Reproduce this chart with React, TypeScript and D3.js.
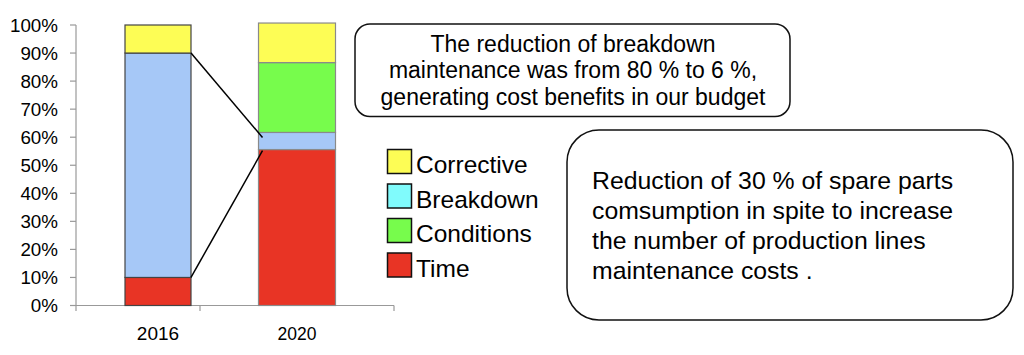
import React from "react";
import * as d3 from "d3";

const categories = ["2016", "2020"];
const seriesNames = ["Time", "Breakdown", "Conditions", "Corrective"];
const timeValues = [10, 55.6];
const breakdownValues = [80, 6.1];
const conditionsValues = [0, 24.9];
const correctiveValues = [10, 14.1];
const yTicks = [0, 10, 20, 30, 40, 50, 60, 70, 80, 90, 100];
const legendNames = ["Corrective", "Breakdown", "Conditions", "Time"];
const note1Lines = [
  "The reduction of breakdown",
  "maintenance was from 80 % to 6 %,",
  "generating cost benefits in our budget",
];
const note2Lines = [
  "Reduction of 30 % of spare parts",
  "comsumption in spite to increase",
  "the number of production lines",
  "maintenance costs .",
];
// connector lines: [value at 2016 right edge, value at 2020 left edge]
const connectorValues = [
  [90, 59.9],
  [10, 55.2],
];

const barColors: Record<string, string> = {
  Time: "#e83425",
  Breakdown: "#a6c8f7",
  Conditions: "#77fc4c",
  Corrective: "#fdfd55",
};
const legendColors: Record<string, string> = {
  Corrective: "#fdfd55",
  Breakdown: "#80fbfc",
  Conditions: "#77fc4c",
  Time: "#e83425",
};
const barWidths: Record<string, number> = { "2016": 66, "2020": 77 };
const barStroke: Record<string, string> = { "2016": "#444", "2020": "#8a8a8a" };
const xLabelSize: Record<string, number> = { "2016": 19, "2020": 17.5 };

const FONT = "'Liberation Sans', Arial, sans-serif";

export default function App() {
  const W = 1024;
  const H = 355;
  const y = d3.scaleLinear().domain([0, 100]).range([305.5, 25]);
  const x = d3.scaleBand().domain(categories).range([88.5, 366.5]).padding(0);

  const table = categories.map((c, i) => ({
    cat: c,
    Time: timeValues[i],
    Breakdown: breakdownValues[i],
    Conditions: conditionsValues[i],
    Corrective: correctiveValues[i],
  }));
  const stacked = d3.stack<any>().keys(seriesNames)(table);

  const axisX = 76;
  const centers = categories.map((c) => (x(c) as number) + x.bandwidth() / 2);

  return (
    <svg width={W} height={H} style={{ display: "block", position: "absolute", left: 0, top: 0 }} fontFamily={FONT}>
      <rect width={W} height={H} fill="#fff" />
      {/* y axis */}
      <line x1={axisX} x2={axisX} y1={y(100)} y2={311} stroke="#999" strokeWidth={1.2} />
      {yTicks.map((t) => (
        <g key={t}>
          <line x1={70} x2={axisX} y1={y(t)} y2={y(t)} stroke="#999" strokeWidth={1.2} />
          <text x={58} y={y(t)} dy="0.36em" textAnchor="end" fontSize={18.8} fill="#000">
            {t}%
          </text>
        </g>
      ))}
      {/* x axis */}
      <line x1={axisX} x2={394} y1={y(0)} y2={y(0)} stroke="#999" strokeWidth={1.2} />
      {[200, 394].map((tx) => (
        <line key={tx} x1={tx} x2={tx} y1={y(0)} y2={311} stroke="#999" strokeWidth={1.2} />
      ))}
      {/* bars */}
      {stacked.map((s) =>
        s.map((d, i) => {
          const c = categories[i];
          const h = y(d[0]) - y(d[1]);
          if (h <= 0) return null;
          const w = barWidths[c];
          return (
            <rect
              key={s.key + c}
              x={centers[i] - w / 2}
              y={y(d[1])}
              width={w}
              height={h}
              fill={barColors[s.key]}
              stroke={barStroke[c]}
              strokeWidth={1.2}
            />
          );
        })
      )}
      {/* connectors */}
      {connectorValues.map(([a, b], k) => (
        <line
          key={k}
          x1={centers[0] + barWidths["2016"] / 2}
          y1={y(a)}
          x2={centers[1] - barWidths["2020"] / 2 + 4}
          y2={y(b)}
          stroke="#000"
          strokeWidth={1.5}
        />
      ))}
      {/* x labels */}
      {categories.map((c, i) => (
        <text key={c} x={centers[i]} y={340} textAnchor="middle" fontSize={xLabelSize[c]} fill="#000">
          {c}
        </text>
      ))}
      {/* legend */}
      {legendNames.map((n, i) => (
        <g key={n} transform={`translate(387.5, ${149.5 + i * 34.5})`}>
          <rect width={24} height={24} fill={legendColors[n]} stroke="#111" strokeWidth={1.5} />
          <text x={28.5} y={23.5} fontSize={24.5} fill="#000">
            {n}
          </text>
        </g>
      ))}
      {/* note 1 */}
      <rect x={355} y={24} width={435} height={92.5} rx={15} ry={15} fill="#fff" stroke="#111" strokeWidth={1.5} />
      {note1Lines.map((l, i) => (
        <text key={i} x={573} y={51.5 + i * 26.5} textAnchor="middle" fontSize={23} fill="#000">
          {l}
        </text>
      ))}
      {/* note 2 */}
      <rect x={567} y={130} width={446} height={190} rx={32} ry={32} fill="#fff" stroke="#111" strokeWidth={1.5} />
      {note2Lines.map((l, i) => (
        <text key={i} x={592} y={188.5 + i * 30} fontSize={24.8} fill="#000">
          {l}
        </text>
      ))}
    </svg>
  );
}
